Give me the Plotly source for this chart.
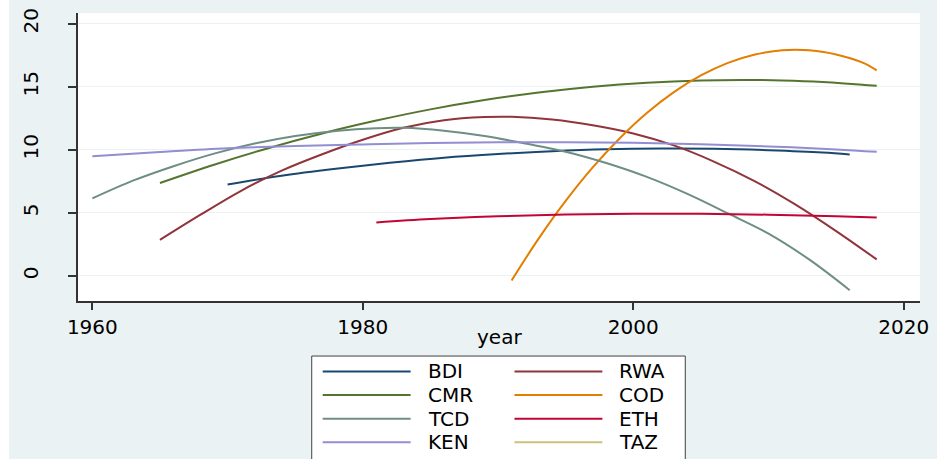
import plotly.graph_objects as go

# ---------------- data ----------------
BDI_years = [1970, 1974, 1978, 1982, 1986, 1990, 1994, 1998, 2002, 2006, 2010, 2014, 2016]
BDI_vals = [7.25, 7.94, 8.49, 8.97, 9.38, 9.67, 9.89, 10.04, 10.1, 10.08, 9.97, 9.79, 9.63]

RWA_years = [1965, 1968, 1971, 1974, 1977, 1980, 1983, 1986, 1989, 1991, 1994, 1997, 2000, 2003, 2006, 2009, 2012, 2015, 2018]
RWA_vals = [2.85, 4.85, 6.75, 8.35, 9.65, 10.8, 11.75, 12.35, 12.6, 12.62, 12.4, 11.95, 11.3, 10.35, 9.05, 7.5, 5.65, 3.55, 1.3]

CMR_years = [1965, 1969, 1973, 1977, 1981, 1985, 1989, 1993, 1997, 2001, 2005, 2008, 2011, 2014, 2018]
CMR_vals = [7.37, 8.82, 10.13, 11.3, 12.32, 13.21, 13.95, 14.55, 15.01, 15.33, 15.51, 15.55, 15.51, 15.39, 15.08]

COD_years = [1991, 1993, 1995, 1997, 1999, 2001, 2003, 2005, 2007, 2009, 2011, 2012, 2013, 2015, 2017, 2018]
COD_vals = [-0.37, 2.95, 5.94, 8.6, 10.92, 12.92, 14.58, 15.9, 16.9, 17.57, 17.9, 17.94, 17.9, 17.57, 16.9, 16.3]

TCD_years = [1960, 1963, 1966, 1969, 1972, 1975, 1978, 1981, 1983, 1986, 1989, 1992, 1995, 1998, 2001, 2004, 2007, 2010, 2013, 2016]
TCD_vals = [6.14, 7.55, 8.7, 9.7, 10.5, 11.1, 11.5, 11.72, 11.75, 11.52, 11.1, 10.5, 9.85, 8.95, 7.85, 6.5, 4.95, 3.35, 1.3, -1.14]

ETH_years = [1981, 1985, 1990, 1995, 2000, 2005, 2010, 2015, 2018]
ETH_vals = [4.24, 4.5, 4.73, 4.87, 4.92, 4.92, 4.85, 4.72, 4.63]

KEN_years = [1960, 1965, 1970, 1975, 1980, 1985, 1990, 1995, 2000, 2005, 2010, 2015, 2018]
KEN_vals = [9.48, 9.82, 10.12, 10.3, 10.43, 10.54, 10.6, 10.6, 10.56, 10.45, 10.27, 10.03, 9.84]

TAZ_years = []
TAZ_vals = []

names = ["BDI", "RWA", "CMR", "COD", "TCD", "ETH", "KEN", "TAZ"]
colors = ["#1a476f", "#90353b", "#55752f", "#e37e00", "#6e8e84", "#c10534", "#938dd2", "#cac27e"]
series = [
    (BDI_years, BDI_vals), (RWA_years, RWA_vals), (CMR_years, CMR_vals), (COD_years, COD_vals),
    (TCD_years, TCD_vals), (ETH_years, ETH_vals), (KEN_years, KEN_vals), (TAZ_years, TAZ_vals),
]

x_ticks = [1960, 1980, 2000, 2020]
y_ticks = [0, 5, 10, 15, 20]

# ---------------- figure ----------------
W, H = 937, 459
L, R, T, B = 78, 16, 8, 158
PW, PH = W - L - R, H - T - B


def px_x(p):
    return (p - L) / PW


def px_y(p):
    return (H - B - p) / PH


FONT = "DejaVu Sans"
FS = 20
fig = go.Figure()
for name, color, (xs, ys) in zip(names, colors, series):
    fig.add_trace(go.Scatter(x=xs, y=ys, mode="lines", name=name,
                             line=dict(color=color, width=2, shape="spline"),
                             showlegend=False))

shapes = []
annotations = []
# white strip on far left
shapes.append(dict(type="rect", xref="paper", yref="paper", x0=px_x(-2), x1=px_x(9),
                   y0=px_y(470), y1=px_y(-10), fillcolor="white", line=dict(width=0), layer="below"))
# legend box
shapes.append(dict(type="rect", xref="paper", yref="paper", x0=px_x(312), x1=px_x(686),
                   y0=px_y(475), y1=px_y(357), fillcolor="white",
                   line=dict(color="#404040", width=1), layer="above"))
rows_py = [372.7, 396.7, 420.7, 444.7]
cols = [(323, 411, 426), (515, 603, 618)]
for i, (name, color) in enumerate(zip(names, colors)):
    r, c = i // 2, i % 2
    lx0, lx1, tx = cols[c]
    yy = px_y(rows_py[r])
    shapes.append(dict(type="line", xref="paper", yref="paper", x0=px_x(lx0), x1=px_x(lx1),
                       y0=yy, y1=yy, line=dict(color=color, width=2), layer="above"))
    annotations.append(dict(xref="paper", yref="paper", x=px_x(tx), y=yy, text=name,
                            showarrow=False, xanchor="left", yanchor="middle",
                            font=dict(family=FONT, size=FS, color="black")))
# x axis title
annotations.append(dict(xref="paper", yref="paper", x=0.5, y=px_y(338), text="year",
                        showarrow=False, xanchor="center", yanchor="middle",
                        font=dict(family=FONT, size=FS, color="black")))

fig.update_layout(
    width=W, height=H,
    margin=dict(l=L, r=R, t=T, b=B, pad=0),
    paper_bgcolor="#eaf2f3",
    plot_bgcolor="white",
    shapes=shapes,
    annotations=annotations,
    font=dict(family=FONT, size=FS, color="black"),
)
fig.update_xaxes(range=[1958.94, 2021.2], tickvals=x_ticks, ticktext=[str(v) for v in x_ticks],
                 showgrid=False, zeroline=False, showline=True, linecolor="#333333", linewidth=1.5,
                 ticks="outside", ticklen=7, tickcolor="#333333", tickwidth=1.5,
                 tickfont=dict(family=FONT, size=FS))
fig.update_yaxes(range=[-2.0, 20.86], tickvals=y_ticks, ticktext=[str(v) for v in y_ticks],
                 showgrid=True, gridcolor="#eaf2f3", gridwidth=1.2, zeroline=False,
                 showline=True, linecolor="#333333", linewidth=1.5,
                 ticks="outside", ticklen=8, tickcolor="#333333", tickwidth=1.5,
                 tickangle=-90, ticklabelstandoff=22,
                 tickfont=dict(family=FONT, size=FS))

fig.write_html("out.html", config={"displayModeBar": False},
               post_script="document.body.style.margin='0';document.body.style.padding='0';")
